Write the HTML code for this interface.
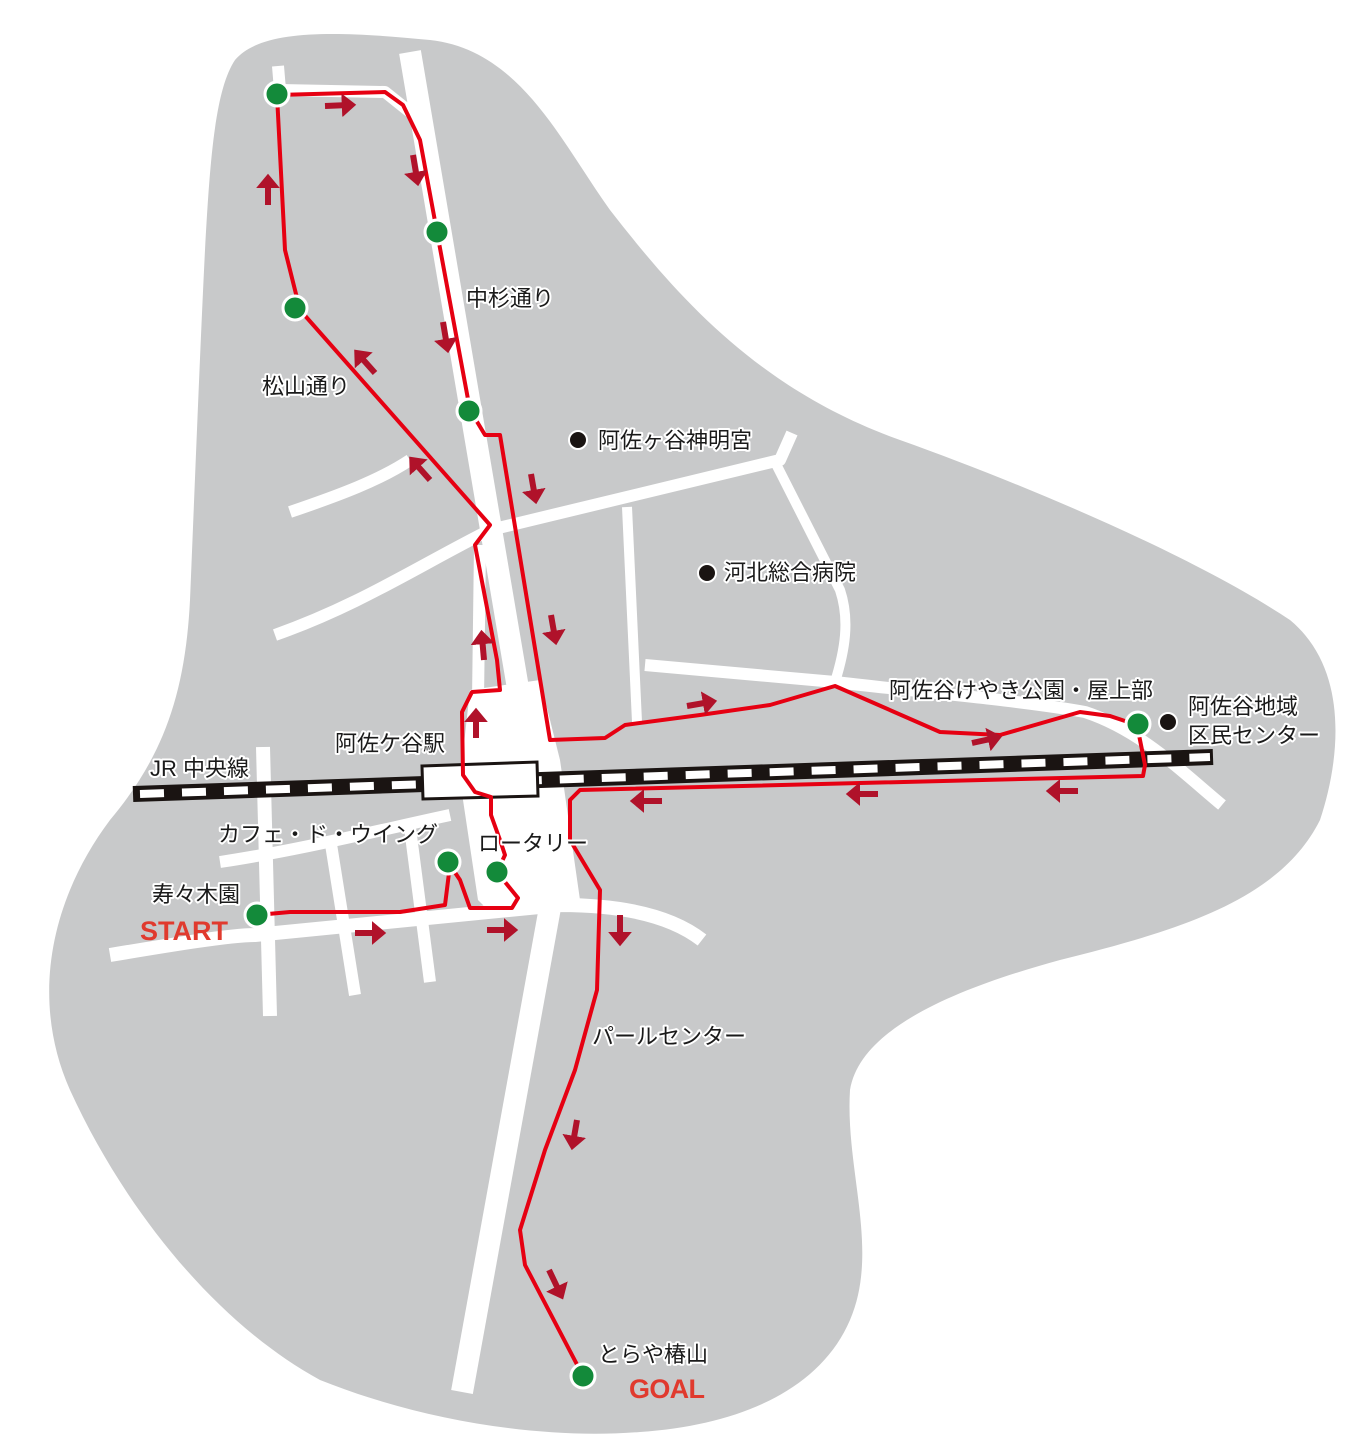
<!DOCTYPE html>
<html><head><meta charset="utf-8"><style>
html,body{margin:0;padding:0;background:#fff}
svg{display:block}
text{font-family:"Liberation Sans","Noto Sans CJK JP",sans-serif;font-size:22px;fill:#1a1a1a;paint-order:stroke;stroke:#fff;stroke-width:4px;stroke-linejoin:round}
.se{font-weight:bold;fill:#e03a2e;font-size:27px;stroke:none}
</style></head><body>
<svg width="1348" height="1440" viewBox="0 0 1348 1440" xmlns="http://www.w3.org/2000/svg">
<defs>
<marker id="ah" markerWidth="4" markerHeight="4" refX="1.2" refY="2" orient="auto" markerUnits="strokeWidth">
<path d="M0,0 L2.4,2 L0,4 Z" fill="#b0122a"/>
</marker>
</defs>
<path d="M235,60 C260,30 330,30 430,40 C520,50 560,140 610,210 C680,300 760,390 900,440 C1040,490 1200,560 1290,620 C1350,670 1340,760 1320,820 C1280,900 1180,930 1060,960 C950,990 860,1030 850,1090 C845,1170 880,1250 850,1320 C820,1390 740,1425 640,1432 C540,1440 420,1420 320,1380 C210,1320 120,1200 70,1090 C30,1000 50,900 110,820 C160,760 185,700 190,600 C195,480 200,350 205,250 C210,160 215,90 235,60 Z" fill="#c8c9ca"/>
<g stroke="#fff" fill="none" stroke-linecap="butt" stroke-linejoin="round">
<path d="M410,52 L520,700" stroke-width="22"/>
<path d="M555,880 L462,1392" stroke-width="22"/>
<path d="M278,66 L280,90 L385,92 L410,112" stroke-width="12"/>
<path d="M290,512 C340,495 380,480 410,460" stroke-width="12"/>
<path d="M275,635 C360,605 420,565 490,530 L780,460 L792,433" stroke-width="12"/>
<path d="M627,507 L637,722" stroke-width="10"/>
<path d="M775,462 L840,590 C850,620 845,650 835,682" stroke-width="10"/>
<path d="M645,665 L835,682 C900,690 1020,700 1085,712 C1140,730 1180,770 1222,805" stroke-width="12"/>
<path d="M110,955 C170,945 230,935 255,935 L560,905 C620,905 670,915 702,940" stroke-width="14"/>
<path d="M263,747 L270,1016" stroke-width="14"/>
<path d="M330,838 L355,995" stroke-width="12"/>
<path d="M410,828 L430,982" stroke-width="12"/>
<path d="M220,862 C300,850 380,830 450,815" stroke-width="12"/>
<path d="M480,545 L478,700" stroke-width="12"/>
</g>
<path d="M470,690 L540,680 L560,760 L580,900 L560,912 L490,912 L478,900 L460,780 Z" fill="#fff"/>
<line x1="133" y1="794" x2="1213" y2="757" stroke="#1a1412" stroke-width="16"/>
<line x1="140" y1="794" x2="1210" y2="757" stroke="#fff" stroke-width="8" stroke-dasharray="24,18"/>
<path d="M422,766 L537,762 L538,796 L423,799 Z" fill="#fff" stroke="#1a1412" stroke-width="3"/>
<path d="M257,915 L290,912 L400,912 L445,905 L450,865 M448,862 L460,880 L470,908 L512,908 L518,898 L505,882 L497,872 L505,855 L500,840 L491,815 L491,797 L475,792 L463,775 L462,712 L472,692 L500,690 L497,660 L475,545 L490,525 L300,310 L285,250 L277,95 L385,92 L403,105 L420,140 L437,232 L470,410 L485,435 L500,435 L550,740 L605,738 L625,725 L700,715 L770,705 L835,686 L940,732 L1000,735 L1080,712 L1110,716 L1137,725 L1145,765 L1143,776 L580,790 L570,800 L570,840 L600,890 L597,990 L575,1070 L545,1150 L520,1230 L525,1265 L583,1376" fill="none" stroke="#e60012" stroke-width="4" stroke-linejoin="round"/>
<g stroke="#b0122a" stroke-width="6" marker-end="url(#ah)" fill="none">
<line x1="325" y1="106" x2="349" y2="105"/>
<line x1="413" y1="155" x2="417" y2="179"/>
<line x1="443" y1="322" x2="447" y2="346"/>
<line x1="268" y1="205" x2="268" y2="181"/>
<line x1="375" y1="373" x2="359" y2="355"/>
<line x1="430" y1="480" x2="414" y2="462"/>
<line x1="531" y1="474" x2="535" y2="497"/>
<line x1="551" y1="615" x2="555" y2="638"/>
<line x1="484" y1="660" x2="482" y2="637"/>
<line x1="476" y1="738" x2="476" y2="715"/>
<line x1="687" y1="706" x2="710" y2="702"/>
<line x1="972" y1="743" x2="995" y2="738"/>
<line x1="662" y1="801" x2="637" y2="801"/>
<line x1="878" y1="794" x2="853" y2="794"/>
<line x1="1078" y1="791" x2="1053" y2="791"/>
<line x1="355" y1="933" x2="379" y2="933"/>
<line x1="487" y1="930" x2="511" y2="930"/>
<line x1="620" y1="915" x2="620" y2="939"/>
<line x1="577" y1="1120" x2="573" y2="1143"/>
<line x1="549" y1="1270" x2="560" y2="1293"/>
</g>
<g fill="#138a3a" stroke="#fff" stroke-width="3">
<circle cx="277" cy="94" r="12"/><circle cx="437" cy="232" r="12"/><circle cx="295" cy="308" r="12"/><circle cx="469" cy="411" r="12"/><circle cx="1138" cy="724" r="12"/><circle cx="448" cy="862" r="12"/><circle cx="497" cy="872" r="12"/><circle cx="257" cy="915" r="12"/><circle cx="583" cy="1376" r="12"/>
</g>
<g fill="#1a1412" stroke="#fff" stroke-width="2"><circle cx="578" cy="440" r="9"/><circle cx="707" cy="573" r="9"/><circle cx="1168" cy="722" r="9"/></g>
<text x="466" y="306">中杉通り</text>
<text x="262" y="394">松山通り</text>
<text x="598" y="448">阿佐ヶ谷神明宮</text>
<text x="724" y="580">河北総合病院</text>
<text x="889" y="698">阿佐谷けやき公園・屋上部</text>
<text x="1188" y="714">阿佐谷地域</text>
<text x="1188" y="743">区民センター</text>
<text x="335" y="751">阿佐ケ谷駅</text>
<text x="150" y="776">JR 中央線</text>
<text x="218" y="842">カフェ・ド・ウイング</text>
<text x="478" y="851">ロータリー</text>
<text x="152" y="902">寿々木園</text>
<text class="se" x="140" y="940" textLength="88">START</text>
<text x="592" y="1044">パールセンター</text>
<text x="598" y="1362">とらや椿山</text>
<text class="se" x="629" y="1398" textLength="76">GOAL</text>
</svg>
</body></html>
